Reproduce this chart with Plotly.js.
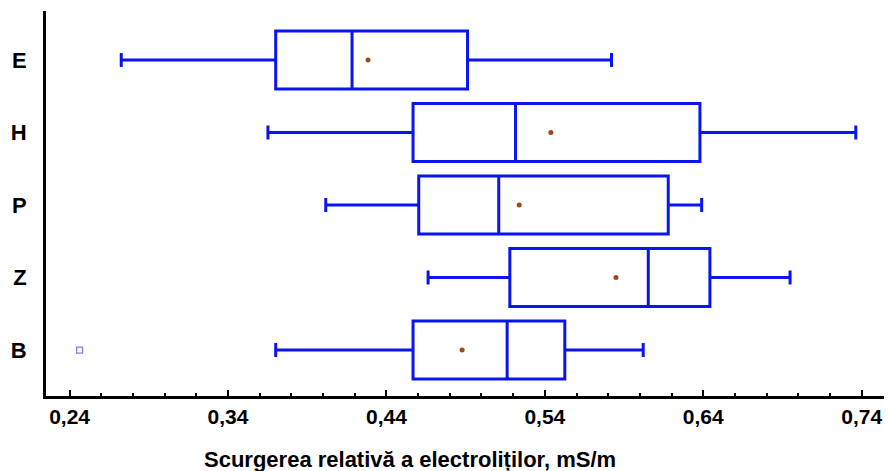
<!DOCTYPE html>
<html>
<head>
<meta charset="utf-8">
<script src="https://cdn.plot.ly/plotly-3.0.1.min.js"></script>
<style>
  html, body { margin: 0; padding: 0; background: #ffffff; }
  #chart { width: 888px; height: 471px; }
</style>
</head>
<body>
<div id="chart"></div>
<script>
// Categories (top to bottom as drawn)
const categories = ['E', 'H', 'P', 'Z', 'B'];
// Box statistics
const lowerWhisker = [0.2726, 0.3652, 0.4017, 0.4663, 0.3701];
const q1Values     = [0.3701, 0.4568, 0.4604, 0.5179, 0.4568];
const medianValues = [0.4183, 0.5215, 0.5109, 0.6053, 0.5162];
const q3Values     = [0.4912, 0.6379, 0.6179, 0.6442, 0.5526];
const upperWhisker = [0.5821, 0.7363, 0.6390, 0.6948, 0.6021];
const meanValues   = [0.4284, 0.5438, 0.5238, 0.5849, 0.4878];
// Outliers
const outlierCategories = ['B'];
const outlierValues = [0.2463];
// Axis ticks
const tickValues = [0.24, 0.34, 0.44, 0.54, 0.64, 0.74];
const tickLabels = ['0,24', '0,34', '0,44', '0,54', '0,64', '0,74'];
const xTitle = 'Scurgerea relativă a electroliților, mS/m';

const FONT = 'Liberation Sans, Arial, sans-serif';
const BLUE = '#0a14f0';

const traces = [
  {
    type: 'box',
    orientation: 'h',
    y: categories,
    q1: q1Values,
    median: medianValues,
    q3: q3Values,
    lowerfence: lowerWhisker,
    upperfence: upperWhisker,
    boxpoints: false,
    width: 0.8,
    whiskerwidth: 0.24,
    line: { color: BLUE, width: 3 },
    fillcolor: 'rgba(255,255,255,0)',
    showlegend: false,
    hoverinfo: 'x+y'
  },
  {
    type: 'scatter',
    mode: 'markers',
    y: categories,
    x: meanValues,
    marker: { color: '#9a4a1c', size: 5 },
    showlegend: false
  },
  {
    type: 'scatter',
    mode: 'markers',
    y: outlierCategories,
    x: outlierValues,
    marker: { symbol: 'square-open', color: '#7f7fe6', size: 6, line: { width: 1.2, color: '#7f7fe6' } },
    showlegend: false
  }
];

const layout = {
  width: 888,
  height: 471,
  margin: { l: 46, r: 4, t: 11, b: 75 },
  paper_bgcolor: '#ffffff',
  plot_bgcolor: '#ffffff',
  font: { family: FONT, color: '#000000' },
  xaxis: {
    range: [0.2251, 0.7541],
    tickmode: 'array',
    tickvals: tickValues,
    ticktext: tickLabels,
    ticks: 'inside',
    ticklen: 6,
    tickwidth: 2,
    tickcolor: '#000000',
    showline: true,
    linecolor: '#000000',
    linewidth: 3,
    showgrid: false,
    zeroline: false,
    tickfont: { family: FONT, size: 21, color: '#000000', weight: 'bold' },
    minor: { tickmode: 'linear', tick0: 0.24, dtick: 0.02, ticks: 'inside', ticklen: 3, tickwidth: 2, tickcolor: '#000000', showgrid: false },
    fixedrange: true
  },
  yaxis: {
    type: 'category',
    categoryorder: 'array',
    categoryarray: ['B', 'Z', 'P', 'H', 'E'],
    range: [-0.634, 4.676],
    showline: true,
    linecolor: '#000000',
    linewidth: 3,
    ticks: '',
    showgrid: false,
    zeroline: false,
    ticklabelstandoff: 12,
    tickfont: { family: FONT, size: 22, color: '#000000', weight: 'bold' },
    fixedrange: true
  },
  annotations: [
    {
      text: xTitle,
      xref: 'paper', yref: 'paper',
      x: 0.434, y: 0,
      xanchor: 'center', yanchor: 'top',
      yshift: -49,
      showarrow: false,
      font: { family: FONT, size: 22, color: '#000000', weight: 'bold' }
    }
  ]
};

Plotly.newPlot('chart', traces, layout, { displayModeBar: false, staticPlot: true });
</script>
</body>
</html>
